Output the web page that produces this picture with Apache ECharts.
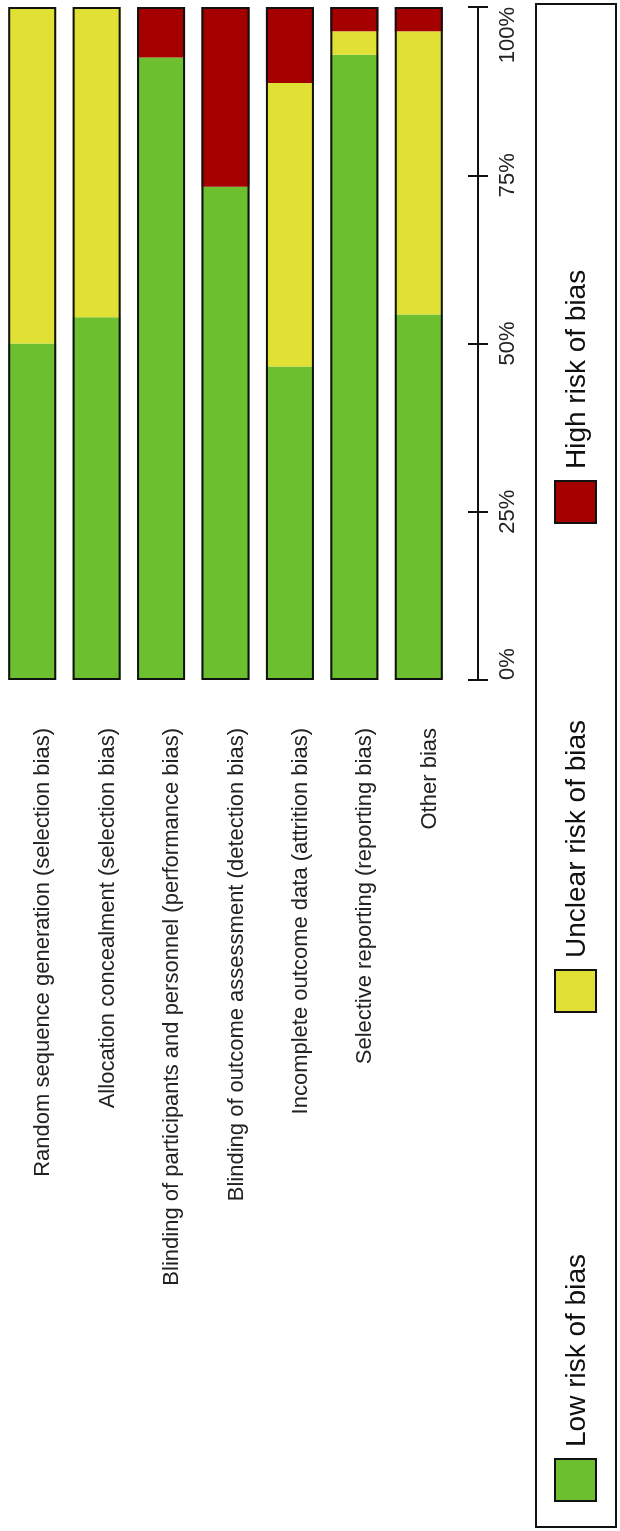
<!DOCTYPE html>
<html>
<head>
<meta charset="utf-8">
<script src="https://cdn.jsdelivr.net/npm/echarts@6/dist/echarts.min.js"></script>
<style>
  html, body { margin: 0; padding: 0; background: #fff; }
  #container1 { width: 620px; height: 1531px; }
</style>
</head>
<body>
<div id="container1"></div>
<script>
var categories = [
  "Random sequence generation (selection bias)",
  "Allocation concealment (selection bias)",
  "Blinding of participants and personnel (performance bias)",
  "Blinding of outcome assessment (detection bias)",
  "Incomplete outcome data (attrition bias)",
  "Selective reporting (reporting bias)",
  "Other bias"
];
var lowRisk = [50, 53.9, 92.5, 73.3, 46.6, 92.9, 54.3];
var unclearRisk = [50, 46.1, 0, 0, 42.1, 3.5, 42.1];
var highRisk = [0, 0, 7.5, 26.7, 11.3, 3.6, 3.6];
var legendNames = ["Low risk of bias", "Unclear risk of bias", "High risk of bias"];
var colors = ["#6cc02f", "#e1e034", "#a50000"];
var tickValues = [0, 25, 50, 75, 100];

var fontFamily = '"Liberation Sans", Arial, sans-serif';
var totals = lowRisk.map(function (v, i) {
  return v + unclearRisk[i] + highRisk[i];
});

// legend is drawn by hand, rotated like the rest of the figure
var legendTops = [1459, 970, 481];
var legendGraphic = [{
  type: 'rect',
  shape: { x: 536, y: 4, width: 80, height: 1523 },
  style: { fill: '#fff', stroke: '#111', lineWidth: 2 }
}];
legendNames.forEach(function (name, i) {
  legendGraphic.push({
    type: 'rect',
    shape: { x: 555, y: legendTops[i], width: 41, height: 42 },
    style: { fill: colors[i], stroke: '#111', lineWidth: 2 }
  });
  legendGraphic.push({
    type: 'text',
    x: 577,
    y: legendTops[i] - 12,
    rotation: Math.PI / 2,
    style: {
      text: name,
      fill: '#111',
      fontSize: 28,
      fontFamily: fontFamily,
      textAlign: 'left',
      textVerticalAlign: 'middle'
    }
  });
});

var myChart = echarts.init(document.getElementById('container1'));
var option = {
  animation: false,
  backgroundColor: '#fff',
  grid: { left: -4, width: 455, top: 7, bottom: 851 },
  xAxis: {
    type: 'category',
    data: categories,
    axisLine: { show: false },
    axisTick: { show: false },
    axisLabel: {
      rotate: 90,
      margin: 48,
      interval: 0,
      fontSize: 22,
      fontFamily: fontFamily,
      color: '#222',
      verticalAlign: 'top'
    }
  },
  yAxis: [{
    type: 'value',
    position: 'right',
    offset: 27,
    min: 0,
    max: 100,
    interval: 25,
    splitLine: { show: false },
    axisLine: { show: true, lineStyle: { color: '#111', width: 2 } },
    axisTick: { show: true, length: 10, lineStyle: { color: '#111', width: 2 } },
    axisLabel: {
      rotate: 90,
      margin: 19,
      fontSize: 22,
      fontFamily: fontFamily,
      color: '#222',
      alignMinLabel: 'left',
      alignMaxLabel: 'right',
      formatter: function (v) {
        return tickValues.indexOf(v) >= 0 ? v + '%' : '';
      }
    }
  }, {
    type: 'value',
    position: 'right',
    offset: 27,
    min: 0,
    max: 100,
    interval: 25,
    splitLine: { show: false },
    axisLine: { show: false },
    axisTick: { show: true, inside: true, length: 10, lineStyle: { color: '#111', width: 2 } },
    axisLabel: { show: false }
  }],
  series: [{
    name: legendNames[0],
    type: 'bar',
    stack: 'risk',
    barWidth: 48,
    data: lowRisk,
    itemStyle: { color: colors[0] }
  }, {
    name: legendNames[1],
    type: 'bar',
    stack: 'risk',
    barWidth: 48,
    data: unclearRisk,
    itemStyle: { color: colors[1] }
  }, {
    name: legendNames[2],
    type: 'bar',
    stack: 'risk',
    barWidth: 48,
    data: highRisk,
    itemStyle: { color: colors[2] }
  }, {
    // black outline around every whole bar
    name: 'outline',
    type: 'bar',
    barWidth: 48,
    barGap: '-100%',
    silent: true,
    z: 5,
    data: totals,
    itemStyle: { color: 'rgba(0,0,0,0)', borderColor: '#111', borderWidth: 2 }
  }],
  graphic: legendGraphic
};
myChart.setOption(option);
</script>
</body>
</html>
